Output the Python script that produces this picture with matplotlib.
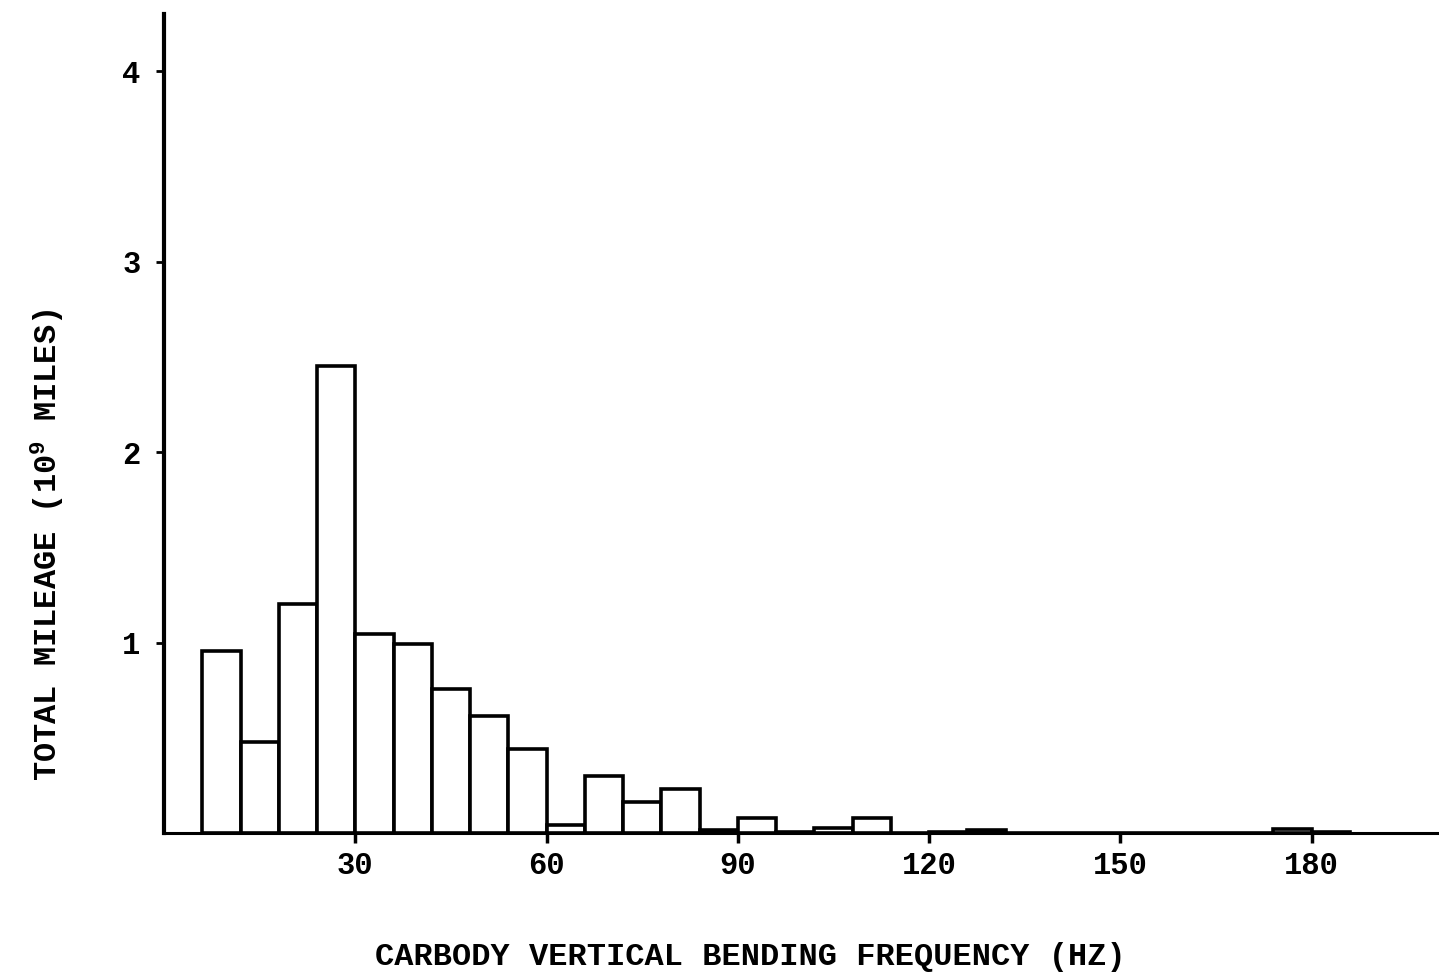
import matplotlib.pyplot as plt

# frequency bins (Hz), 6 Hz wide, left edges
bin_left = [6, 12, 18, 24, 30, 36, 42, 48, 54, 60, 66, 72, 78, 84, 90, 96,
            102, 108, 114, 120, 126, 132, 138, 144, 150, 156, 162, 168, 174, 180]
# total mileage per bin (10^9 miles)
mileage = [0.955, 0.48, 1.20, 2.45, 1.045, 0.99, 0.755, 0.615, 0.44, 0.04,
           0.30, 0.16, 0.23, 0.015, 0.08, 0.005, 0.025, 0.08, 0.0, 0.005,
           0.015, 0.0, 0.0, 0.0, 0.0, 0.0, 0.0, 0.0, 0.02, 0.005]
bin_width = 6

x_ticks = [30, 60, 90, 120, 150, 180]
y_ticks = [1, 2, 3, 4]

plt.rcParams['font.family'] = ['Liberation Mono', 'DejaVu Sans Mono']
plt.rcParams['font.weight'] = 'bold'
plt.rcParams['axes.labelweight'] = 'bold'
plt.rcParams['mathtext.default'] = 'regular'

fig = plt.figure(figsize=(14.39, 9.74), dpi=100)
ax = fig.add_axes([0.114, 0.1448, 0.886, 0.8408])

ax.bar(bin_left, mileage, width=bin_width, align='edge',
       facecolor='white', edgecolor='black', linewidth=2.6)

ax.set_xlim(0, 200)
ax.set_ylim(0, 4.3)
ax.set_xticks(x_ticks)
ax.set_yticks(y_ticks)

# only the left and bottom axis lines
ax.spines['top'].set_visible(False)
ax.spines['right'].set_visible(False)
ax.spines['left'].set_linewidth(3)
ax.spines['bottom'].set_linewidth(2.2)

ax.tick_params(axis='x', direction='out', length=7, width=2.5, pad=6,
               labelsize=22)
ax.tick_params(axis='y', direction='out', length=6, width=2, pad=11,
               labelsize=22)

ax.set_xlabel('CARBODY VERTICAL BENDING FREQUENCY (HZ)', fontsize=23,
              labelpad=44)
ax.xaxis.label.set_x(0.46)
ax.set_ylabel('TOTAL MILEAGE (10$^{9}$ MILES)', fontsize=23, labelpad=40)
ax.yaxis.label.set_y(0.352)

fig.savefig('out.png', dpi=100)
